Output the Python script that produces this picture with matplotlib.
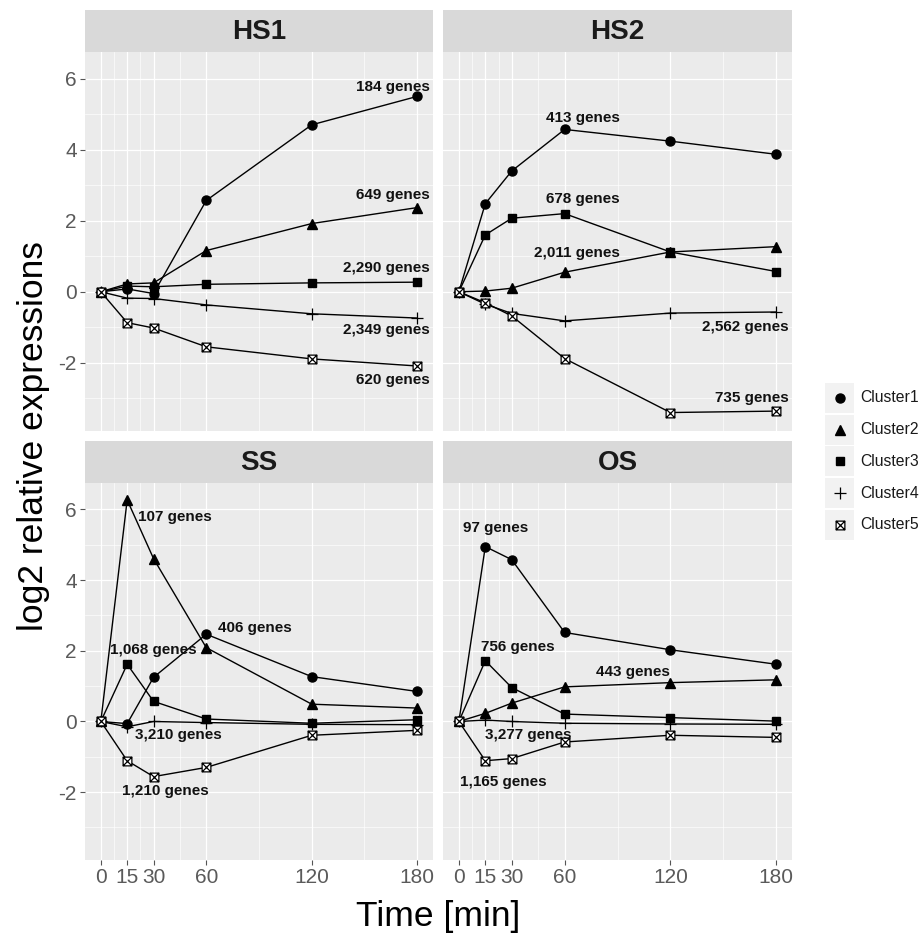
import matplotlib
matplotlib.use('Agg')
import matplotlib.pyplot as plt
from matplotlib.path import Path
from matplotlib.patches import Rectangle

plt.rcParams['font.family'] = ['Liberation Sans', 'DejaVu Sans']

# ---- data ----
TIME = [0, 15, 30, 60, 120, 180]
TIME_LABELS = ['0', '15', '30', '60', '120', '180']
Y_TICKS = [-2, 0, 2, 4, 6]
CLUSTERS = ['Cluster1', 'Cluster2', 'Cluster3', 'Cluster4', 'Cluster5']
PANELS = ['HS1', 'HS2', 'SS', 'OS']

HS1_C1 = [0, 0.08, -0.05, 2.57, 4.70, 5.50]
HS1_C2 = [0, 0.22, 0.25, 1.16, 1.92, 2.37]
HS1_C3 = [0, 0.16, 0.14, 0.21, 0.25, 0.27]
HS1_C4 = [0, -0.18, -0.19, -0.37, -0.62, -0.74]
HS1_C5 = [0, -0.87, -1.02, -1.55, -1.89, -2.09]
HS1_GENES = [184, 649, 2290, 2349, 620]

HS2_C1 = [0, 2.48, 3.40, 4.57, 4.24, 3.87]
HS2_C2 = [0, 0.02, 0.10, 0.55, 1.12, 1.27]
HS2_C3 = [0, 1.60, 2.07, 2.20, 1.12, 0.57]
HS2_C4 = [0, -0.35, -0.61, -0.82, -0.60, -0.57]
HS2_C5 = [0, -0.31, -0.68, -1.88, -3.40, -3.36]
HS2_GENES = [413, 2011, 678, 2562, 735]

SS_C1 = [0, -0.06, 1.25, 2.47, 1.27, 0.85]
SS_C2 = [0, 6.27, 4.61, 2.09, 0.49, 0.38]
SS_C3 = [0, 1.62, 0.57, 0.07, -0.05, 0.05]
SS_C4 = [0, -0.15, 0.0, -0.03, -0.08, -0.09]
SS_C5 = [0, -1.11, -1.56, -1.30, -0.39, -0.25]
SS_GENES = [406, 107, 1068, 3210, 1210]

OS_C1 = [0, 4.95, 4.58, 2.52, 2.03, 1.62]
OS_C2 = [0, 0.23, 0.52, 0.98, 1.10, 1.18]
OS_C3 = [0, 1.72, 0.96, 0.21, 0.11, 0.01]
OS_C4 = [0, 0.04, 0.0, -0.05, -0.07, -0.08]
OS_C5 = [0, -1.11, -1.05, -0.58, -0.39, -0.45]
OS_GENES = [97, 443, 756, 3277, 1165]

SERIES = {
    'HS1': [HS1_C1, HS1_C2, HS1_C3, HS1_C4, HS1_C5],
    'HS2': [HS2_C1, HS2_C2, HS2_C3, HS2_C4, HS2_C5],
    'SS': [SS_C1, SS_C2, SS_C3, SS_C4, SS_C5],
    'OS': [OS_C1, OS_C2, OS_C3, OS_C4, OS_C5],
}
GENES = {'HS1': HS1_GENES, 'HS2': HS2_GENES, 'SS': SS_GENES, 'OS': OS_GENES}

# label placement (x in min, y in log2, alignment), per cluster
LABEL_POS = {
    'HS1': [(187, 5.77, 'right'), (187, 2.72, 'right'), (187, 0.68, 'right'),
            (187, -1.07, 'right'), (187, -2.48, 'right')],
    'HS2': [(70.5, 4.90, 'center'), (67, 1.09, 'center'), (70.5, 2.62, 'center'),
            (187, -0.98, 'right'), (187, -2.99, 'right')],
    'SS': [(66.7, 2.66, 'left'), (21.2, 5.80, 'left'), (5.3, 2.03, 'left'),
           (19.3, -0.39, 'left'), (12.3, -1.96, 'left')],
    'OS': [(2.5, 5.47, 'left'), (78, 1.39, 'left'), (12.3, 2.12, 'left'),
           (15.1, -0.39, 'left'), (0.6, -1.71, 'left')],
}

# square with a cross (R shape 7)
SQCROSS = Path([(-1, -1), (1, -1), (1, 1), (-1, 1), (-1, -1),
                (-1, -1), (1, 1), (-1, 1), (1, -1)],
               [Path.MOVETO, Path.LINETO, Path.LINETO, Path.LINETO, Path.CLOSEPOLY,
                Path.MOVETO, Path.LINETO, Path.MOVETO, Path.LINETO])

STYLES = [
    dict(marker='o', markersize=6.5),
    dict(marker='^', markersize=7),
    dict(marker='s', markersize=5.6),
    dict(marker='+', markersize=9, markeredgewidth=0.9),
    dict(marker=SQCROSS, markersize=6.3, markerfacecolor='white', markeredgewidth=0.9),
]

W, H = 922, 933
fig = plt.figure(figsize=(W / 100, H / 100), dpi=100)


def box(l, t, r, b):
    return [l / W, 1 - b / H, (r - l) / W, (b - t) / H]


LAYOUT = {
    'HS1': (85, 52, 433, 431),
    'HS2': (443, 52, 792, 431),
    'SS': (85, 483, 433, 860),
    'OS': (443, 483, 792, 860),
}
STRIP_H = 42

for name in PANELS:
    l, t, r, b = LAYOUT[name]
    ax = fig.add_axes(box(l, t, r, b))
    ax.set_facecolor('#EBEBEB')
    for s in ax.spines.values():
        s.set_visible(False)
    ax.set_xlim(-9, 189)
    ax.set_ylim(-3.92, 6.75)
    ax.set_xticks(TIME)
    ax.set_xticks([7.5, 22.5, 45, 90, 150], minor=True)
    ax.set_yticks(Y_TICKS)
    ax.set_yticks([-3, -1, 1, 3, 5], minor=True)
    ax.grid(True, which='major', color='white', linewidth=0.9)
    ax.grid(True, which='minor', color='white', linewidth=0.45)
    ax.set_axisbelow(True)
    ax.tick_params(which='minor', length=0)
    ax.tick_params(which='major', length=3.5, width=0.8, color='#555555',
                   labelsize=15, labelcolor='#5a5a5a', pad=2.5)

    if name in ('HS1', 'SS'):
        ax.set_yticklabels([str(v) for v in Y_TICKS])
    else:
        ax.tick_params(axis='y', which='major', length=0, labelleft=False)
    if name in ('SS', 'OS'):
        ax.set_xticklabels(TIME_LABELS)
    else:
        ax.tick_params(axis='x', which='major', length=0, labelbottom=False)

    for vals, st in zip(SERIES[name], STYLES):
        ax.plot(TIME, vals, color='black', linewidth=1.0, zorder=3, **st)

    for n, (x, y, ha) in zip(GENES[name], LABEL_POS[name]):
        ax.text(x, y, f'{n:,} genes', ha=ha, va='center', fontsize=11,
                fontweight='bold', color='#111111', zorder=4)

    # facet strip
    sax = fig.add_axes(box(l, t - STRIP_H, r, t))
    sax.set_facecolor('#D9D9D9')
    sax.set_xticks([])
    sax.set_yticks([])
    for s in sax.spines.values():
        s.set_visible(False)
    sax.text(0.5, 0.47, name, ha='center', va='center', fontsize=20,
             fontweight='bold', color='#1A1A1A', transform=sax.transAxes)

fig.text(33 / W, 1 - 436 / H, 'log2 relative expressions', rotation=90,
         ha='center', va='center', fontsize=25.5)
fig.text(438 / W, 1 - 926 / H, 'Time [min]', ha='center', va='baseline',
         fontsize=25.5)

# legend
lax = fig.add_axes(box(820, 380, 922, 545))
lax.set_xlim(820, 922)
lax.set_ylim(545, 380)
lax.axis('off')
for i, (lab, st) in enumerate(zip(CLUSTERS, STYLES)):
    cy = 398 + i * 31.7
    lax.add_patch(Rectangle((825, cy - 15), 29, 30, facecolor='#F2F2F2',
                            edgecolor='none'))
    lax.plot([839.5], [cy], color='black', linestyle='none', **st)
    lax.text(860, cy, lab, ha='left', va='center', fontsize=11.3, color='#1A1A1A')

fig.savefig('out.png', dpi=100)
